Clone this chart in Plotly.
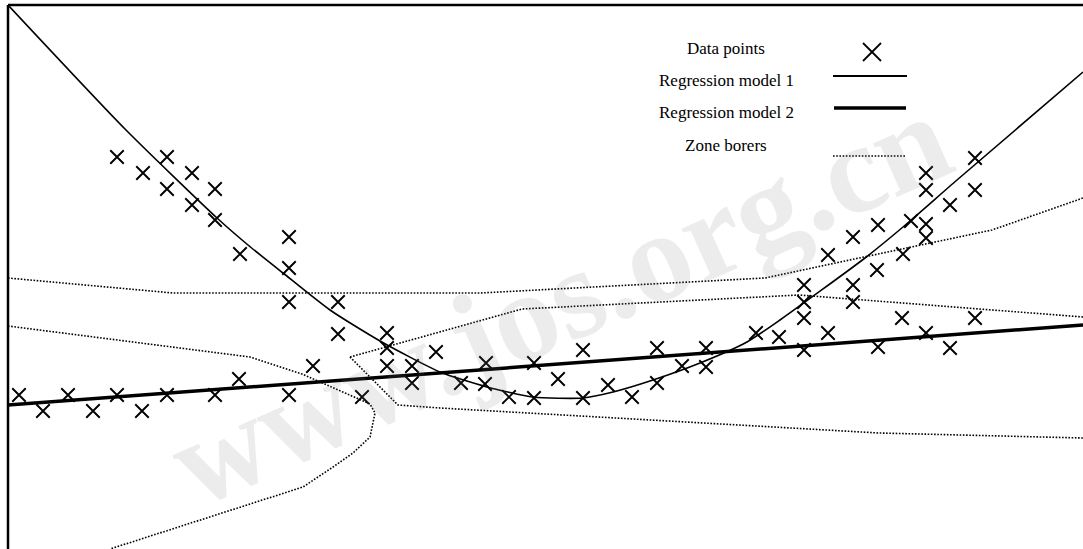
import plotly.graph_objects as go

# ---------------- data ----------------
# observed samples
pts_x = [0.11, 0.35, 0.60, 0.85, 1.09, 1.34, 1.59, 2.07, 2.31, 2.81, 3.05, 3.54,
         1.09, 1.35, 1.59, 1.59, 1.84, 1.84, 2.07, 2.07, 2.32, 2.81, 2.81, 2.81, 3.30, 3.30,
         3.79, 3.79, 3.79, 4.04, 4.04, 4.28, 4.53, 4.78, 4.77, 5.01, 5.26, 5.26, 5.50, 5.75,
         5.75, 6.00, 6.24, 6.49, 6.49, 6.74, 6.98, 6.98,
         7.48, 7.71, 7.96, 7.96, 7.96, 7.96, 8.20, 8.20, 8.45, 8.45, 8.45, 8.69, 8.70, 8.70,
         8.95, 8.94, 9.03, 9.18, 9.18, 9.18, 9.18, 9.18, 9.42, 9.42, 9.67, 9.67, 9.67]
pts_y = [1.54, 1.38, 1.54, 1.38, 1.54, 1.38, 1.54, 1.54, 1.70, 1.54, 1.83, 1.52,
         3.92, 3.76, 3.92, 3.60, 3.76, 3.44, 3.60, 3.29, 2.95, 3.12, 2.81, 2.47, 2.47, 2.15,
         2.16, 2.01, 1.83, 1.83, 1.66, 1.97, 1.66, 1.86, 1.65, 1.52, 1.86, 1.51, 1.70, 1.99,
         1.51, 1.64, 1.52, 2.01, 1.66, 1.83, 2.01, 1.82,
         2.16, 2.12, 1.99, 2.31, 2.47, 2.64, 2.16, 2.94, 2.47, 2.64, 3.12, 2.79, 3.24, 2.02,
         2.95, 2.31, 3.28, 3.25, 3.11, 3.59, 3.76, 2.16, 3.44, 2.01, 3.59, 3.91, 2.31]

# regression model 1 (piecewise nonlinear fit)
m1_x = [0.00, 1.17, 2.09, 2.40, 2.75, 3.22, 3.72, 4.32, 4.79, 5.25, 5.75, 6.05,
        6.45, 6.92, 7.39, 7.72, 8.57, 8.95, 9.49, 10.75]
m1_y = [5.44, 4.20, 3.31, 3.04, 2.76, 2.39, 2.08, 1.77, 1.62, 1.52, 1.51, 1.57,
        1.69, 1.86, 2.07, 2.29, 2.91, 3.22, 3.69, 4.77]

# regression model 2 (single linear fit)
m2_x = [0.00, 10.75]
m2_y = [1.44, 2.24]

# zone borders
zone1_x = [0.00, 1.65, 4.72, 7.57, 8.18, 9.84, 10.75]
zone1_y = [2.71, 2.56, 2.56, 2.71, 2.84, 3.19, 3.51]
zone2_x = [0.00, 2.42, 2.94, 3.62, 3.67, 3.62, 3.45, 3.25, 2.95, 1.02]
zone2_y = [2.23, 1.92, 1.75, 1.45, 1.36, 1.12, 0.96, 0.82, 0.62, 0.00]
zone3_x = [3.42, 3.92, 5.14, 7.91, 10.75]
zone3_y = [1.92, 2.06, 2.40, 2.54, 2.32]
zone4_x = [3.42, 3.90, 4.32, 6.92, 8.71, 10.75]
zone4_y = [1.92, 1.44, 1.41, 1.26, 1.16, 1.11]
zones = [(zone1_x, zone1_y), (zone2_x, zone2_y), (zone3_x, zone3_y), (zone4_x, zone4_y)]

legend_labels = ["Data points", "Regression model 1", "Regression model 2", "Zone borers"]

# ---------------- figure ----------------
W, H = 1083, 549
ML, MT = 8, 5
PW, PH = W - ML, H - MT

DOTS = "1.6px,1.6px"
DOT_COLOR = "#000000"

fig = go.Figure()

for zx, zy in zones:
    fig.add_trace(go.Scatter(x=zx, y=zy, mode="lines",
                             line=dict(color=DOT_COLOR, width=1.6, dash=DOTS),
                             hoverinfo="skip"))

fig.add_trace(go.Scatter(x=m2_x, y=m2_y, mode="lines",
                         line=dict(color="black", width=3.5)))

fig.add_trace(go.Scatter(x=m1_x, y=m1_y, mode="lines",
                         line=dict(color="black", width=1.6, shape="spline", smoothing=0.6)))

fig.add_trace(go.Scatter(x=pts_x, y=pts_y, mode="markers",
                         marker=dict(symbol="x-thin", size=13.5,
                                     line=dict(color="black", width=1.9))))


def px(x):
    return (x - ML) / PW


def py(y):
    return (H - y) / PH


shapes = [
    # frame: top and left edges
    dict(type="line", xref="paper", yref="paper", x0=0, x1=1, y0=1, y1=1,
         line=dict(color="black", width=2.5)),
    dict(type="line", xref="paper", yref="paper", x0=0, x1=0, y0=0, y1=1,
         line=dict(color="black", width=2.5)),
]

# legend glyphs (text on the left, sample on the right)
cx, cy, r = 872, 52, 9
shapes += [
    dict(type="line", xref="paper", yref="paper", x0=px(cx - r), y0=py(cy - r),
         x1=px(cx + r), y1=py(cy + r), line=dict(color="black", width=1.8)),
    dict(type="line", xref="paper", yref="paper", x0=px(cx - r), y0=py(cy + r),
         x1=px(cx + r), y1=py(cy - r), line=dict(color="black", width=1.8)),
    dict(type="line", xref="paper", yref="paper", x0=px(833), x1=px(907), y0=py(76), y1=py(76),
         line=dict(color="black", width=1.8)),
    dict(type="line", xref="paper", yref="paper", x0=px(834), x1=px(906), y0=py(108), y1=py(108),
         line=dict(color="black", width=3.5)),
    dict(type="line", xref="paper", yref="paper", x0=px(833), x1=px(905), y0=py(156), y1=py(156),
         line=dict(color=DOT_COLOR, width=1.6, dash=DOTS)),
]

annotations = []
for label, ty in zip(legend_labels, [48, 81, 113, 146]):
    annotations.append(dict(xref="paper", yref="paper", x=px(726), y=py(ty),
                            text=label, showarrow=False, xanchor="center", yanchor="middle",
                            font=dict(family="Liberation Serif", size=17, color="black")))

# site watermark
annotations.append(dict(xref="paper", yref="paper", x=px(560), y=py(300),
                        text="<b>www.jos.org.cn</b>", showarrow=False, textangle=-24,
                        xanchor="center", yanchor="middle",
                        font=dict(family="Liberation Serif", size=128,
                                  color="rgba(120,120,120,0.14)")))

fig.update_layout(
    width=W, height=H,
    margin=dict(l=ML, r=0, t=MT, b=0),
    paper_bgcolor="white", plot_bgcolor="white",
    showlegend=False,
    xaxis=dict(range=[0, 10.75], visible=False, fixedrange=True),
    yaxis=dict(range=[0, 5.44], visible=False, fixedrange=True),
    shapes=shapes,
    annotations=annotations,
)

fig.write_html("out.html")
